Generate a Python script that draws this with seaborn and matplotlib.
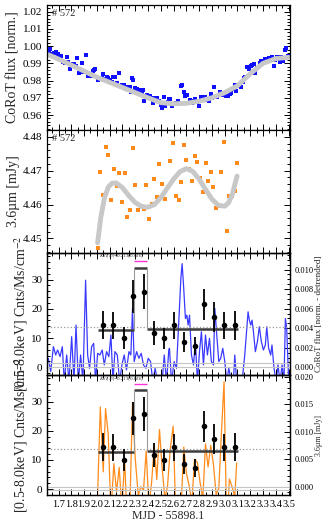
import numpy as np
import pandas as pd
import matplotlib
matplotlib.use('Agg')
import matplotlib.pyplot as plt
from matplotlib.ticker import MultipleLocator, FormatStrFormatter
import seaborn as sns

# CoRoT optical light curve (panel 1)
corot_t = [1.615, 1.626, 1.634, 1.652, 1.667, 1.678, 1.693, 1.704, 1.719, 1.738, 1.751, 1.764, 1.772,
           1.790, 1.808, 1.824, 1.834, 1.842, 1.863, 1.881, 1.894, 1.907, 1.912, 1.933, 1.954, 1.967,
           1.980, 1.985, 2.011, 2.024, 2.037, 2.050, 2.063, 2.076, 2.089, 2.102, 2.115, 2.128, 2.141,
           2.154, 2.173, 2.188, 2.199, 2.214, 2.225, 2.240, 2.259, 2.271, 2.277, 2.285, 2.298, 2.311,
           2.324, 2.337, 2.350, 2.363, 2.370, 2.389, 2.415, 2.428, 2.441, 2.454, 2.467, 2.485, 2.501,
           2.511, 2.527, 2.537, 2.553, 2.563, 2.571, 2.589, 2.605, 2.623, 2.636, 2.657, 2.667, 2.683,
           2.693, 2.709, 2.727, 2.745, 2.761, 2.771, 2.787, 2.800, 2.818, 2.831, 2.844, 2.857, 2.876,
           2.891, 2.902, 2.917, 2.928, 2.943, 2.962, 2.975, 2.988, 3.001, 3.014, 3.027, 3.040, 3.053,
           3.066, 3.079, 3.092, 3.105, 3.118, 3.131, 3.144, 3.152, 3.162, 3.178, 3.188, 3.204, 3.214,
           3.230, 3.240, 3.256, 3.274, 3.287, 3.300, 3.313, 3.326, 3.344, 3.360, 3.370, 3.386, 3.397,
           3.412, 3.430, 3.443, 3.456, 3.469, 3.480, 3.495]
corot_f = [0.9968, 0.9974, 0.9981, 0.9954, 0.9962, 0.9968, 0.9954, 0.9939, 0.9943, 0.9910, 0.9904,
           0.9939, 0.9908, 0.9865, 0.9894, 0.9894, 0.9885, 0.9929, 0.9846, 0.9904, 0.9850, 0.9850,
           0.9947, 0.9827, 0.9827, 0.9858, 0.9862, 0.9865, 0.9803, 0.9813, 0.9813, 0.9836, 0.9811,
           0.9819, 0.9813, 0.9803, 0.9794, 0.9823, 0.9823, 0.9788, 0.9842, 0.9769, 0.9775, 0.9775,
           0.9749, 0.9765, 0.9765, 0.9736, 0.9813, 0.9803, 0.9755, 0.9749, 0.9736, 0.9745, 0.9722,
           0.9745, 0.9683, 0.9716, 0.9712, 0.9697, 0.9668, 0.9697, 0.9697, 0.9683, 0.9658, 0.9639,
           0.9707, 0.9652, 0.9677, 0.9691, 0.9691, 0.9652, 0.9664, 0.9672, 0.9683, 0.9769, 0.9775,
           0.9736, 0.9710, 0.9716, 0.9687, 0.9672, 0.9683, 0.9691, 0.9677, 0.9652, 0.9707, 0.9707,
           0.9707, 0.9687, 0.9683, 0.9722, 0.9697, 0.9761, 0.9703, 0.9707, 0.9736, 0.9726, 0.9716,
           0.9726, 0.9710, 0.9710, 0.9722, 0.9730, 0.9749, 0.9772, 0.9741, 0.9769, 0.9775, 0.9765,
           0.9794, 0.9813, 0.9823, 0.9877, 0.9865, 0.9885, 0.9891, 0.9897, 0.9846, 0.9871, 0.9900,
           0.9916, 0.9900, 0.9923, 0.9919, 0.9929, 0.9919, 0.9935, 0.9885, 0.9919, 0.9935, 0.9910,
           0.9935, 0.9916, 0.9977, 0.9987, 0.9943]
corot_fit_t = [1.62, 1.70, 1.80, 1.90, 2.00, 2.10, 2.20, 2.30, 2.40, 2.50, 2.60, 2.70, 2.80, 2.90,
               3.00, 3.10, 3.20, 3.30, 3.40, 3.50]
corot_fit_f = [0.9950, 0.9925, 0.9890, 0.9855, 0.9820, 0.9790, 0.9760, 0.9730, 0.9700, 0.9672, 0.9665,
               0.9668, 0.9680, 0.9700, 0.9730, 0.9770, 0.9840, 0.9900, 0.9928, 0.9935]

# Spitzer 3.6 micron light curve (panel 2)
spitzer_t = [2.006, 2.027, 2.050, 2.068, 2.089, 2.110, 2.133, 2.154, 2.175, 2.196, 2.217, 2.238, 2.258,
             2.279, 2.300, 2.324, 2.344, 2.365, 2.386, 2.407, 2.428, 2.449, 2.469, 2.490, 2.511, 2.532,
             2.553, 2.574, 2.597, 2.618, 2.639, 2.660, 2.680, 2.701, 2.722, 2.743, 2.764, 2.787, 2.808,
             2.829, 2.850, 2.870, 2.891, 2.912, 2.933, 2.954, 2.975, 2.995, 3.016, 3.037, 3.058, 3.079,
             3.094]
spitzer_f = [4.4473, 4.4696, 4.4627, 4.4771, 4.4746, 4.4612, 4.4705, 4.4655, 4.4692, 4.4608, 4.4692,
             4.4562, 4.4584, 4.4767, 4.4658, 4.4584, 4.4595, 4.4587, 4.4657, 4.4558, 4.4603, 4.4674,
             4.4621, 4.4720, 4.4660, 4.4616, 4.4651, 4.4729, 4.4783, 4.4626, 4.4614, 4.4667, 4.4775,
             4.4730, 4.4705, 4.4669, 4.4742, 4.4725, 4.4677, 4.4636, 4.4723, 4.4669, 4.4696, 4.4653,
             4.4590, 4.4595, 4.4696, 4.4786, 4.4523, 4.4625, 4.4626, 4.4641, 4.4722]
spitzer_fit_t = [2.006, 2.03, 2.06, 2.09, 2.12, 2.15, 2.20, 2.25, 2.30, 2.35, 2.40, 2.45, 2.50, 2.55,
                 2.60, 2.65, 2.70, 2.75, 2.80, 2.85, 2.90, 2.95, 3.00, 3.03, 3.06, 3.08, 3.097]
spitzer_fit_f = [4.4487, 4.4560, 4.4620, 4.4652, 4.4663, 4.4664, 4.4650, 4.4626, 4.4606, 4.4594,
                 4.4592, 4.4600, 4.4620, 4.4648, 4.4675, 4.4697, 4.4706, 4.4698, 4.4675, 4.4645,
                 4.4616, 4.4598, 4.4595, 4.4605, 4.4630, 4.4660, 4.4684]

# detrended CoRoT flux (blue line, panel 3)
corot_det_t = [1.620, 1.639, 1.660, 1.678, 1.693, 1.712, 1.730, 1.745, 1.764, 1.782, 1.803, 1.821,
               1.837, 1.855, 1.873, 1.891, 1.912, 1.928, 1.943, 1.959, 1.975, 1.990, 2.006, 2.024,
               2.042, 2.058, 2.076, 2.094, 2.110, 2.126, 2.141, 2.160, 2.178, 2.196, 2.214, 2.232,
               2.251, 2.266, 2.279, 2.292, 2.311, 2.329, 2.347, 2.365, 2.384, 2.402, 2.420, 2.438,
               2.456, 2.475, 2.493, 2.511, 2.527, 2.545, 2.563, 2.568, 2.584, 2.605, 2.623, 2.641,
               2.657, 2.667, 2.678, 2.693, 2.704, 2.714, 2.725, 2.740, 2.756, 2.771, 2.787, 2.803,
               2.818, 2.834, 2.850, 2.865, 2.881, 2.896, 2.912, 2.923, 2.938, 2.954, 2.969, 2.985,
               3.001, 3.016, 3.032, 3.053, 3.068, 3.079, 3.094, 3.115, 3.136, 3.157, 3.173, 3.183,
               3.193, 3.204, 3.214, 3.225, 3.240, 3.256, 3.271, 3.287, 3.303, 3.318, 3.329, 3.344,
               3.360, 3.370, 3.386, 3.402, 3.417, 3.433, 3.449, 3.464, 3.475, 3.485, 3.501]
corot_det = [0.00092, -0.00044, 0.00211, 0.00126, 0.00177, 0.00109, 0.00211, -0.0015, 0.00126, -0.0015,
             0.00313, -0.0015, 0.00432, -0.0015, 0.00126, -0.0015, 0.00891, 0.00126, -0.0001, 0.00211,
             0.00245, -0.0015, 0.00143, 0.00126, 0.00177, 0.00024, 0.00160, 0.00109, 0.00330, -0.0015,
             0.00160, 0.00126, -0.0015, 0.00024, 0.00126, -0.00027, 0.00160, 0.00126, 0.00602, 0.00058,
             0.00160, 0.00092, 0.00143, 0.00024, -0.0001, 0.00092, 0.00058, -0.0015, -0.0001, -0.0015,
             -0.0015, -0.0015, 0.00126, -0.0015, 0.00177, 0.00194, -0.0015, 0.00058, -0.0001, 0.00466,
             0.00908, 0.01061, 0.00840, 0.00500, 0.00534, 0.00432, 0.00534, 0.00126, 0.00024, 0.00262,
             -0.0015, 0.00160, 0.00364, 0.00024, 0.00330, 0.00126, 0.00296, 0.00058, 0.00024, 0.00602,
             0.00330, 0.00058, 0.00092, 0.00194, 0.00058, -0.0015, -0.0001, -0.0015, -0.0015, 0.00126,
             -0.0015, -0.0015, -0.0015, 0.00126, 0.00398, 0.00568, 0.00483, 0.00432, 0.00483, 0.00364,
             0.00160, 0.00262, 0.00415, 0.00262, 0.00177, 0.00228, 0.00415, 0.00194, 0.00126, 0.00228,
             -0.0001, -0.0015, 0.00024, -0.0015, 0.00024, -0.0015, 0.00500, 0.00398, -0.0015]

# detrended Spitzer flux (orange line, panel 4), same times as spitzer_t
spitzer_det = [-0.0014, 0.0145, 0.0027, 0.0142, 0.0095, -0.0048, 0.0042, -0.0009, 0.0035, -0.0043,
               0.0050, -0.0070, -0.0040, 0.0153, 0.0052, -0.0016, 0.0000, -0.0006, 0.0065, -0.0035,
               0.0007, 0.0074, 0.0013, 0.0104, 0.0034, -0.0022, 0.0001, 0.0068, 0.0110, -0.0057,
               -0.0078, -0.0032, 0.0072, 0.0024, 0.0002, -0.0030, 0.0050, 0.0044, 0.0007, -0.0022,
               0.0078, 0.0036, 0.0075, 0.0041, -0.0014, -0.0003, 0.0100, 0.0191, -0.0077, 0.0014,
               0.0000, -0.0018, 0.0043]

# X-ray light curve [0.5-8.0 keV]
xray_t = [2.050, 2.128, 2.209, 2.284, 2.368, 2.446, 2.524, 2.602, 2.683, 2.764, 2.839, 2.917, 2.998, 3.081]
xray_rate = [14.5, 14.3, 10.0, 24.3, 25.8, 11.6, 9.9, 14.3, 8.7, 7.2, 21.5, 17.3, 14.3, 14.3]
xray_err = [4.7, 4.6, 3.7, 5.7, 6.0, 4.1, 3.7, 4.7, 3.4, 3.0, 5.4, 5.1, 4.7, 4.8]
block_edges = [2.011, 2.292, 2.389, 3.108]
block_rates = [12.7, 34.1, 13.2]
xray_mean = 13.9
ratio_text = r'$K_{s}/I_{[4.5]}$=0.213(0.026)'

sns.set_style('ticks')
plt.rcParams['font.family'] = ['Liberation Serif', 'DejaVu Serif']
plt.rcParams['mathtext.fontset'] = 'stix'
plt.rcParams['axes.linewidth'] = 0.9

fig, axs = plt.subplots(4, 1, figsize=(3.27, 5.31), dpi=100, sharex=True,
                        gridspec_kw={'height_ratios': [125, 123, 122, 120], 'hspace': 0})
fig.subplots_adjust(left=47/327, right=290/327, top=1-5/531, bottom=1-495/531)
ax1, ax2, ax3, ax4 = axs

def style(ax, right=True):
	ax.tick_params(which='both', direction='in', top=True, right=right, labelsize=8, width=0.7, colors='black')
	ax.tick_params(which='major', length=4)
	ax.tick_params(which='minor', length=2)
	ax.xaxis.set_major_locator(MultipleLocator(0.1))
	ax.xaxis.set_minor_locator(MultipleLocator(0.05))
	for s in ax.spines.values():
		s.set_visible(True)
		s.set_color('black')

grey = '#c8c8c8'

# panel 1
sns.lineplot(x=corot_fit_t, y=corot_fit_f, ax=ax1, color=grey, linewidth=3.5, estimator=None, sort=False)
sns.scatterplot(x=corot_t, y=corot_f, ax=ax1, marker='s', s=9, color='#1010ff', linewidth=0)
ax1.set_ylim(0.9513, 1.0239)
ax1.yaxis.set_major_locator(MultipleLocator(0.01))
ax1.yaxis.set_minor_locator(MultipleLocator(0.002))
ax1.yaxis.set_major_formatter(FormatStrFormatter('%.2f'))
ax1.set_ylabel('CoRoT flux [norm.]', fontsize=10, labelpad=2)
ax1.text(0.02, 0.965, '# 572', transform=ax1.transAxes, ha='left', va='top', fontsize=7.5)
style(ax1)

# panel 2
sns.lineplot(x=spitzer_fit_t, y=spitzer_fit_f, ax=ax2, color=grey, linewidth=3.5, estimator=None, sort=False)
sns.scatterplot(x=spitzer_t, y=spitzer_f, ax=ax2, marker='s', s=6, color='#ff8a1c', linewidth=0)
ax2.set_ylim(4.4457, 4.482)
ax2.yaxis.set_major_locator(MultipleLocator(0.01))
ax2.yaxis.set_minor_locator(MultipleLocator(0.002))
ax2.yaxis.set_major_formatter(FormatStrFormatter('%.2f'))
ax2.set_ylabel('3.6µm [mJy]', fontsize=10, labelpad=2)
ax2.text(0.02, 0.965, '# 572', transform=ax2.transAxes, ha='left', va='top', fontsize=7.5)
style(ax2)

def xray_panel(ax, axr, det_t, det_v, line_color, zero_lines):
	axr.set_zorder(ax.get_zorder())
	ax.set_zorder(axr.get_zorder() + 1)
	ax.patch.set_visible(False)
	sns.lineplot(x=det_t, y=det_v, ax=axr, color=line_color, linewidth=0.9, estimator=None, sort=False)
	for z in zero_lines:
		ax.axhline(z, color='#c4c4c4', linewidth=0.8, zorder=1)
	ax.axhline(xray_mean, color='#999999', linestyle=':', linewidth=0.9, zorder=1)
	ax.hlines(block_rates, block_edges[:-1], block_edges[1:], color='#3c3c3c', linewidth=1.8, zorder=3)
	ax.vlines(block_edges[1:-1], [block_rates[0], block_rates[2]], block_rates[1],
	          color='#9a9a9a', linewidth=0.8, zorder=3)
	ax.errorbar(xray_t, xray_rate, yerr=xray_err, fmt='none', ecolor='black', elinewidth=1.3, capsize=0, zorder=4)
	sns.scatterplot(x=xray_t, y=xray_rate, ax=ax, color='black', s=16, linewidth=0, zorder=5)
	ax.hlines(36.2, block_edges[1], block_edges[2], color='#ff33dd', linewidth=1.0, zorder=3)
	ax.text((block_edges[0] + block_edges[2]) / 2 - 0.01, 37.9, ratio_text, ha='center', va='center', fontsize=3.6)
	ax.yaxis.set_major_locator(MultipleLocator(10))
	ax.yaxis.set_minor_locator(MultipleLocator(2))
	ax.set_ylabel('[0.5-8.0keV] Cnts/Ms/cm$^{-2}$', fontsize=10, labelpad=0.5)
	style(ax, right=False)
	axr.tick_params(which='both', direction='in', labelsize=6, width=0.7, colors='black', right=True)
	axr.tick_params(which='major', length=4)
	axr.tick_params(which='minor', length=2)
	axr.yaxis.set_major_formatter(FormatStrFormatter('%.3f'))

# panel 3
ax3r = ax3.twinx()
xray_panel(ax3, ax3r, corot_det_t, corot_det, '#3a3aff', [0.0, 1.4])
ax3.set_ylim(-2.63, 39.07)
ax3r.set_ylim(-0.00079, 0.0117)
ax3r.yaxis.set_major_locator(MultipleLocator(0.002))
ax3r.yaxis.set_minor_locator(MultipleLocator(0.0005))
ax3r.set_ylabel('CoRoT flux [norm. - detrended]', fontsize=6.5, labelpad=1)

# panel 4
ax4r = ax4.twinx()
xray_panel(ax4, ax4r, spitzer_t, spitzer_det, '#ff8c1a', [-0.2, 0.8])
ax4.set_ylim(-2.06, 39.2)
ax4r.set_ylim(-0.00151, 0.0203)
ax4r.yaxis.set_major_locator(MultipleLocator(0.005))
ax4r.yaxis.set_minor_locator(MultipleLocator(0.001))
ax4r.set_ylabel('3.6µm [mJy]', fontsize=5.7, labelpad=1)

ax4.set_xlim(1.61, 3.511)
ax4.xaxis.set_major_formatter(FormatStrFormatter('%.1f'))
ax4.tick_params(axis='x', labelsize=7.5)
ax4.set_xlabel('MJD - 55898.1', fontsize=8.5, labelpad=1)

fig.savefig('out.png', dpi=100)
